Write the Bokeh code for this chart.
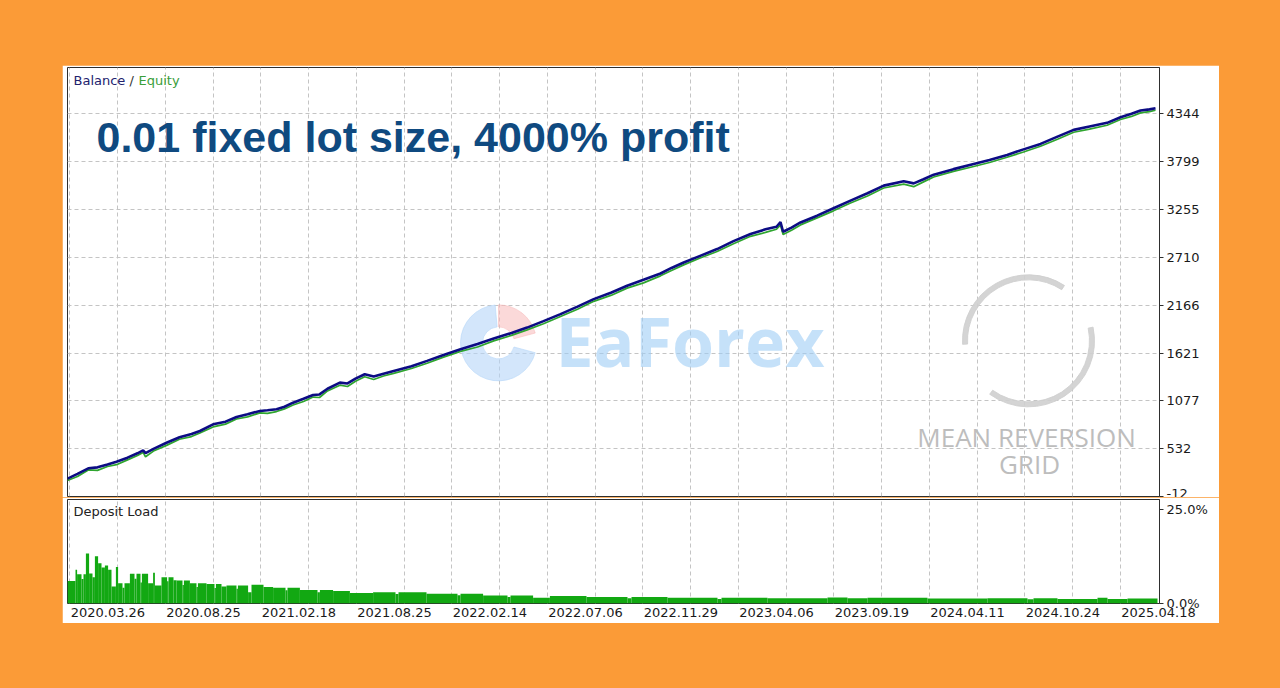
from bokeh.plotting import figure
from bokeh.models import FixedTicker, Range1d, Label, Spacer, Grid
from bokeh.layouts import column, row
from bokeh.embed import file_html
from bokeh.resources import INLINE

# ---------------- data ----------------
deal = [0, 50, 104, 150, 200, 245, 300, 350, 378, 390, 430, 495, 560, 620, 662, 728, 790, 845, 900, 962,
        1000, 1045, 1085, 1128, 1180, 1228, 1260, 1300, 1362, 1400, 1440, 1486, 1531, 1580, 1631, 1720, 1798, 1880, 1965, 2050,
        2131, 2220, 2298, 2380, 2465, 2550, 2631, 2720, 2798, 2880, 2965, 3020, 3081, 3160, 3248, 3330, 3415, 3490, 3545, 3565,
        3578, 3620, 3665, 3748, 3830, 3915, 4000, 4081, 4181, 4231, 4280, 4331, 4430, 4531, 4610, 4698, 4780, 4865, 4950, 5031,
        5110, 5198, 5265, 5320, 5365, 5410, 5440]
balance = [192, 245, 309, 320, 352, 384, 430, 480, 514, 482, 530, 600, 662, 700, 734, 810, 840, 893, 925, 962,
           970, 981, 1010, 1056, 1100, 1144, 1150, 1215, 1284, 1275, 1330, 1380, 1353, 1385, 1418, 1470, 1532, 1600, 1665, 1725,
           1786, 1850, 1911, 1985, 2064, 2150, 2235, 2310, 2387, 2455, 2527, 2590, 2652, 2725, 2805, 2895, 2976, 3030, 3059, 3113,
           3002, 3050, 3108, 3185, 3270, 3356, 3440, 3527, 3576, 3553, 3600, 3652, 3715, 3774, 3820, 3877, 3940, 4002, 4085, 4162,
           4200, 4242, 4305, 4345, 4382, 4395, 4408]
equity = [170, 215, 290, 285, 330, 350, 405, 455, 490, 440, 505, 570, 640, 670, 712, 780, 812, 870, 895, 940,
          935, 955, 985, 1030, 1070, 1120, 1115, 1190, 1255, 1240, 1300, 1352, 1320, 1360, 1390, 1445, 1505, 1575, 1640, 1690,
          1760, 1822, 1885, 1955, 2038, 2120, 2210, 2280, 2360, 2420, 2500, 2560, 2625, 2700, 2778, 2865, 2950, 2995, 3030, 3080,
          2970, 3020, 3080, 3160, 3240, 3330, 3410, 3500, 3545, 3515, 3570, 3625, 3690, 3745, 3790, 3850, 3910, 3975, 4055, 4135,
          4170, 4215, 4280, 4315, 4355, 4370, 4385]

load_start = [0, 40, 48, 70, 80, 92, 108, 125, 137, 153,
              170, 187, 203, 220, 242, 253, 275, 285, 312, 335,
              345, 365, 372, 403, 428, 437, 470, 498, 505, 530,
              545, 575, 582, 612, 645, 652, 695, 735, 742, 770,
              795, 845, 852, 903, 920, 980, 1028, 1090, 1100, 1162,
              1250, 1262, 1328, 1412, 1528, 1640, 1655, 1795, 1950, 1965,
              2078, 2200, 2215, 2328, 2412, 2595, 2800, 2820, 3000, 3250,
              3270, 3500, 3800, 3900, 4000, 4300, 4600, 4800, 4830, 4950,
              5150, 5200, 5300]
load_last_end = 5450
load_pct = [6.0, 9.0, 7.8, 6.5, 7.8, 13.3, 8.0, 7.0, 12.6, 10.7,
            9.6, 10.1, 9.0, 4.5, 9.7, 5.4, 4.2, 5.4, 7.9, 6.6,
            7.9, 5.6, 7.9, 5.4, 8.2, 4.8, 7.0, 5.9, 7.0, 6.2,
            6.1, 4.9, 6.1, 5.4, 4.4, 5.4, 5.2, 4.1, 5.2, 4.5,
            4.8, 3.9, 4.8, 3.0, 5.0, 4.4, 4.2, 3.5, 4.2, 3.6,
            3.0, 3.6, 3.3, 2.8, 3.0, 2.5, 3.0, 2.6, 2.2, 2.6,
            2.1, 1.7, 2.1, 1.5, 2.0, 1.7, 1.4, 1.7, 1.5, 1.2,
            1.5, 1.4, 1.6, 1.4, 1.5, 1.3, 1.4, 1.1, 1.4, 1.2,
            1.5, 1.2, 1.3]

x_tick_deals = [12, 490, 967, 1445, 1922, 2400, 2877, 3355, 3832, 4310, 4787, 5265]
x_tick_labels = ["2020.03.26", "2020.08.25", "2021.02.18", "2021.08.25", "2022.02.14", "2022.07.06",
                 "2022.11.29", "2023.04.06", "2023.09.19", "2024.04.11", "2024.10.24", "2025.04.18"]
y_ticks = [-12, 532, 1077, 1621, 2166, 2710, 3255, 3799, 4344]
y_tick_labels = ["-12", "532", "1077", "1621", "2166", "2710", "3255", "3799", "4344"]
load_ticks = [0, 25]
load_tick_labels = ["0.0%", "25.0%"]

# ---------------- styling ----------------
ORANGE = "#fb9b37"
NAVY = "#0c0c84"
EQ_GREEN = "#2fa52f"
BAR_GREEN = "#12a812"
GRID_C = "#c4c4c4"
FRAME_C = "#2e2e2e"
FONT = "DejaVu Sans"
X_MAX = 5460
LABEL_HALF = 190  # half width of a date label, in deal units (labels start at their tick)

# ---------------- top panel: balance / equity ----------------
top = figure(width=1157, height=432, x_range=Range1d(0, X_MAX), y_range=Range1d(-12, 4872),
             x_axis_location=None, y_axis_location="right", toolbar_location=None,
             output_backend="svg", min_border_left=5, min_border_right=60,
             min_border_top=2, min_border_bottom=1)
top.center = [r for r in top.center if not isinstance(r, Grid)]
top.background_fill_color = "white"
top.border_fill_color = "white"
top.outline_line_color = FRAME_C
top.outline_line_width = 1

mids = [(a + b) / 2 for a, b in zip(x_tick_deals[:-1], x_tick_deals[1:])]
xgrid_ticks = sorted(x_tick_deals + mids)

top.add_layout(Grid(dimension=0, ticker=FixedTicker(ticks=xgrid_ticks), grid_line_color=GRID_C,
                    grid_line_dash="4 3", grid_line_width=1))
top.add_layout(Grid(dimension=1, ticker=FixedTicker(ticks=y_ticks[1:]), grid_line_color=GRID_C,
                    grid_line_dash="4 3", grid_line_width=1))

yax = top.yaxis[0]
yax.ticker = FixedTicker(ticks=y_ticks)
yax.major_label_overrides = {t: s for t, s in zip(y_ticks, y_tick_labels)}
yax.minor_tick_line_color = None
yax.major_tick_in = 0
yax.major_tick_out = 4
yax.major_tick_line_color = FRAME_C
yax.axis_line_color = FRAME_C
yax.major_label_standoff = 3
yax.major_label_text_font = FONT
yax.major_label_text_font_size = "13px"
yax.major_label_text_color = "#1a1a1a"

# faint watermark decorations
top.annular_wedge(x=[4805, 4805], y=[1760, 1760], inner_radius=61, outer_radius=66,
                  inner_radius_units="screen", outer_radius_units="screen",
                  start_angle=[57, -126], end_angle=[183, 12], start_angle_units="deg",
                  end_angle_units="deg", color="#cfcfcf", alpha=0.9)
top.annular_wedge(x=[2155], y=[1737], inner_radius=16, outer_radius=38,
                  inner_radius_units="screen", outer_radius_units="screen",
                  start_angle=[95], end_angle=[345], start_angle_units="deg",
                  end_angle_units="deg", color="#b5d6f8", alpha=0.6)
top.annular_wedge(x=[2155], y=[1737], inner_radius=16, outer_radius=38,
                  inner_radius_units="screen", outer_radius_units="screen",
                  start_angle=[15], end_angle=[90], start_angle_units="deg",
                  end_angle_units="deg", color="#f7baba", alpha=0.55)

top.line(deal, equity, line_color=EQ_GREEN, line_width=1.7)
top.line(deal, balance, line_color=NAVY, line_width=2.6)

# text (alphabetic baseline y values include Bokeh's ~0.4em offset)
top.add_layout(Label(x=488, y=156, x_units="screen", y_units="screen", text="EaForex",
                     text_font="Open Sans", text_font_style="bold", text_font_size="68px",
                     text_color="#9fcdf5", text_alpha=0.6, text_baseline="alphabetic"))
top.add_layout(Label(x=959, y=60, x_units="screen", y_units="screen", text="MEAN REVERSION",
                     text_font="Open Sans", text_font_size="26px", text_align="center",
                     text_color="#bdbdbd", text_baseline="alphabetic"))
top.add_layout(Label(x=962, y=33, x_units="screen", y_units="screen", text="GRID",
                     text_font="Open Sans", text_font_size="26px", text_align="center",
                     text_color="#bdbdbd", text_baseline="alphabetic"))

top.add_layout(Label(x=29, y=360, x_units="screen", y_units="screen",
                     text="0.01 fixed lot size, 4000% profit", text_font="Liberation Sans",
                     text_font_style="bold", text_font_size="43px", text_color="#0f4a80",
                     text_baseline="alphabetic"))
top.add_layout(Label(x=6, y=416, x_units="screen", y_units="screen", text="Balance",
                     text_font=FONT, text_font_size="13px", text_color="#22226e",
                     text_baseline="middle"))
top.add_layout(Label(x=62, y=416, x_units="screen", y_units="screen", text="/",
                     text_font=FONT, text_font_size="13px", text_color="#333333",
                     text_baseline="middle"))
top.add_layout(Label(x=71, y=416, x_units="screen", y_units="screen", text="Equity",
                     text_font=FONT, text_font_size="13px", text_color="#3a9e3a",
                     text_baseline="middle"))

# ---------------- bottom panel: deposit load ----------------
bot = figure(width=1157, height=126, x_range=top.x_range, y_range=Range1d(0, 27.7),
             x_axis_location="below", y_axis_location="right", toolbar_location=None,
             output_backend="svg", min_border_left=5, min_border_right=60,
             min_border_top=2, min_border_bottom=20)
bot.center = [r for r in bot.center if not isinstance(r, Grid)]
bot.background_fill_color = "white"
bot.border_fill_color = "white"
bot.outline_line_color = FRAME_C
bot.add_layout(Grid(dimension=0, ticker=FixedTicker(ticks=xgrid_ticks), grid_line_color=GRID_C,
                    grid_line_dash="4 3", grid_line_width=1))

load_end = load_start[1:] + [load_last_end]
bot.quad(left=load_start, right=load_end, bottom=0, top=load_pct, fill_color=BAR_GREEN,
         line_color=None)

label_centers = [d + LABEL_HALF for d in x_tick_deals]
xax = bot.xaxis[0]
xax.ticker = FixedTicker(ticks=label_centers)
xax.major_label_overrides = {c: t for c, t in zip(label_centers, x_tick_labels)}
xax.major_tick_line_color = None
xax.minor_tick_line_color = None
xax.major_tick_in = 0
xax.major_tick_out = 0
xax.axis_line_color = None
xax.major_label_standoff = 4
xax.major_label_text_font = FONT
xax.major_label_text_font_size = "13px"
xax.major_label_text_color = "#1a1a1a"

bya = bot.yaxis[0]
bya.ticker = FixedTicker(ticks=load_ticks)
bya.major_label_overrides = {t: s for t, s in zip(load_ticks, load_tick_labels)}
bya.minor_tick_line_color = None
bya.major_tick_in = 0
bya.major_tick_out = 4
bya.major_tick_line_color = FRAME_C
bya.axis_line_color = FRAME_C
bya.major_label_standoff = 3
bya.major_label_text_font = FONT
bya.major_label_text_font_size = "13px"
bya.major_label_text_color = "#1a1a1a"

bot.add_layout(Label(x=6, y=92, x_units="screen", y_units="screen", text="Deposit Load",
                     text_font=FONT, text_font_size="13px", text_color="#222222",
                     text_baseline="middle"))

# ---------------- page layout ----------------
bg = {"background-color": ORANGE}
card = column(top, bot, spacing=0)
inner = row(Spacer(width=62, height=558, styles=bg), card, Spacer(width=61, height=558, styles=bg),
            spacing=0, styles=bg)
page = column(Spacer(width=1280, height=65, styles=bg), inner, Spacer(width=1280, height=65, styles=bg),
              spacing=0, styles=bg)

open("out.html", "w").write(file_html(page, INLINE))
